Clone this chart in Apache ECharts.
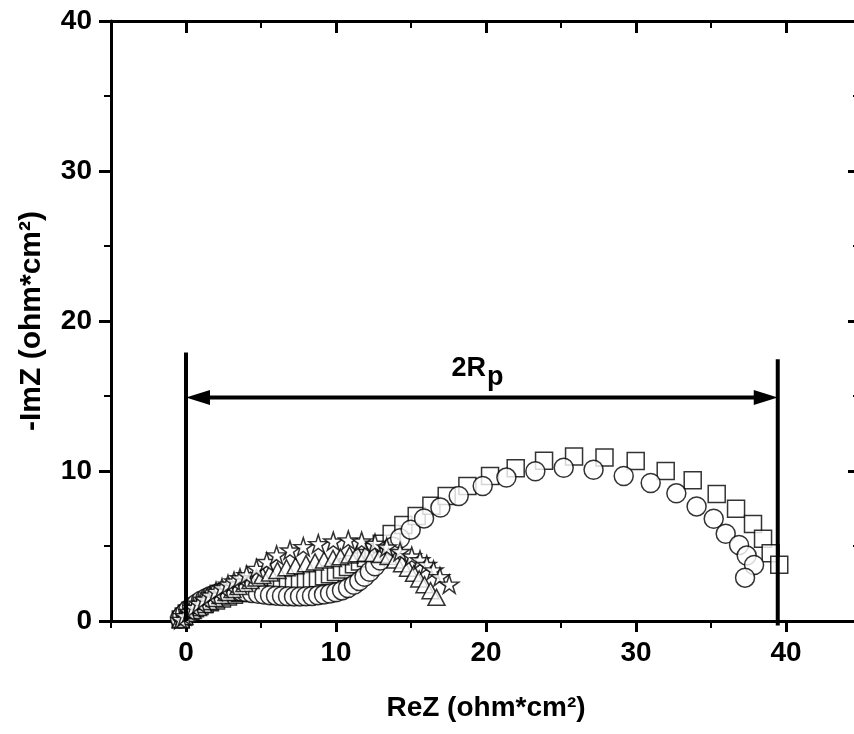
<!DOCTYPE html>
<html><head><meta charset="utf-8">
<script src="https://cdn.jsdelivr.net/npm/echarts@6/dist/echarts.min.js"></script>
<style>html,body{margin:0;padding:0;background:#fff}#c{width:854px;height:734px}</style>
</head><body><div id="c"></div><script>
// ---- data ----
const xMajorTicks = [0, 10, 20, 30, 40];
const xMinorTicks = [-5, 5, 15, 25, 35, 45];
const xLabel = 'ReZ (ohm*cm²)';
const yLabel = '-ImZ (ohm*cm²)';

const circleData = [[-0.4,0.15],[-0.25,0.35],[-0.05,0.55],[0.15,0.75],[0.4,0.95],[0.7,1.15],[1.0,1.35],[1.3,1.5],[1.6,1.65],[1.9,1.77],[2.2,1.87],[2.5,1.94],[2.8,1.98],[3.1,2.0],[3.4,2.0],[3.7,1.97],[4.0,1.93],[4.4,1.87],[4.8,1.81],[5.2,1.76],[5.6,1.72],[6.0,1.69],[6.4,1.67],[6.8,1.65],[7.2,1.64],[7.6,1.64],[8.0,1.65],[8.4,1.67],[8.8,1.71],[9.2,1.76],[9.6,1.83],[10.0,1.92],[10.4,2.04],[10.8,2.2],[11.2,2.42],[11.55,2.66],[11.9,2.95],[12.25,3.28],[12.6,3.65],[12.95,4.03],[13.35,4.45],[13.8,4.95],[14.27,5.51],[14.98,6.09],[15.87,6.84],[16.96,7.56],[18.18,8.33],[19.78,9.0],[21.36,9.56],[23.29,9.98],[25.18,10.22],[27.17,10.08],[29.18,9.67],[30.98,9.2],[32.69,8.51],[34.04,7.64],[35.18,6.82],[35.98,5.82],[36.87,5.07],[37.38,4.36],[37.87,3.73],[37.27,2.89]];

const squareData = [[-0.35,0.1],[-0.15,0.3],[0.05,0.5],[0.3,0.68],[0.6,0.85],[0.9,1.0],[1.25,1.13],[1.6,1.25],[2.0,1.37],[2.4,1.5],[2.8,1.63],[3.2,1.75],[3.6,1.86],[4.0,1.96],[4.4,2.05],[4.8,2.12],[5.2,2.18],[5.6,2.23],[6.0,2.28],[6.4,2.33],[6.8,2.38],[7.2,2.45],[7.6,2.53],[8.0,2.62],[8.4,2.73],[8.8,2.85],[9.2,2.98],[9.6,3.12],[10.0,3.27],[10.4,3.43],[10.8,3.6],[11.2,3.78],[11.6,3.97],[12.0,4.2],[12.5,4.6],[13.05,5.15],[13.71,5.8],[14.49,6.4],[15.38,7.0],[16.36,7.69],[17.38,8.33],[18.76,9.0],[20.27,9.67],[21.98,10.18],[23.87,10.69],[25.87,10.96],[27.9,10.9],[29.98,10.67],[31.98,10.0],[33.78,9.38],[35.38,8.47],[36.67,7.49],[37.8,6.47],[38.47,5.49],[38.98,4.51],[39.55,3.75]];

const triangleData = [[-0.35,0.1],[-0.1,0.3],[0.15,0.5],[0.45,0.7],[0.8,0.9],[1.15,1.1],[1.5,1.3],[1.9,1.5],[2.3,1.7],[2.7,1.9],[3.1,2.1],[3.5,2.3],[3.9,2.5],[4.3,2.7],[4.7,2.87],[5.1,3.03],[5.6,3.2],[6.1,3.37],[6.7,3.55],[7.3,3.68],[8.0,3.82],[8.6,3.94],[9.2,4.06],[9.8,4.17],[10.3,4.28],[10.9,4.4],[11.4,4.48],[12.0,4.52],[12.5,4.5],[13.0,4.43],[13.5,4.3],[13.95,4.07],[14.4,3.82],[14.8,3.52],[15.2,3.18],[15.55,2.8],[15.9,2.42],[16.3,2.02],[16.7,1.58]];

const starData = [[-0.35,0.1],[-0.1,0.35],[0.2,0.62],[0.5,0.9],[0.85,1.18],[1.2,1.45],[1.6,1.72],[2.0,1.98],[2.4,2.22],[2.8,2.45],[3.2,2.66],[3.6,2.87],[4.04,3.07],[4.7,3.5],[5.38,3.96],[6.04,4.4],[6.93,4.73],[7.82,4.95],[8.82,5.15],[9.82,5.32],[10.82,5.4],[11.71,5.32],[12.6,5.18],[13.38,4.92],[14.27,4.62],[15.05,4.32],[15.6,4.07],[16.05,3.76],[16.5,3.4],[16.93,2.95],[17.55,2.45]];

// 2Rp annotation (data units)
const rpLeftX = 0, rpRightX = 39.45, rpArrowY = 14.9;
const rpLeftTop = 17.9, rpRightTop = 17.45, rpLeftBottom = 0, rpRightBottom = -0.3;
const rpLabelX = 20.0, rpLabelY = 15.9;
const rpLabelMain = '2R', rpLabelSub = 'p';

// ---- chart ----
const FONT = '"Liberation Sans", Arial, Helvetica, sans-serif';
const STAR = 'path://M0,-100 L22.45,-30.9 L95.1,-30.9 L36.3,11.8 L58.8,80.9 L0,38.2 L-58.8,80.9 L-36.3,11.8 L-95.1,-30.9 L-22.45,-30.9 Z';
const chart = echarts.init(document.getElementById('c'), null, {renderer: 'canvas'});
const G = {left: 111, top: 21, width: 750, height: 600, outerBoundsMode: 'none', containLabel: false};
const black = '#000';
const markerStyle = {color: '#fff', borderColor: black, borderWidth: 1.5};
const tickLbl = {fontFamily: FONT, fontWeight: 'bold', fontSize: 28, color: black};
const nameLbl = {fontFamily: FONT, fontWeight: 'bold', fontSize: 28, color: black};
const yNameLbl = {fontFamily: FONT, fontWeight: 'bold', fontSize: 30, color: black};

function scatter(name, data, symbol, size) {
  return {name, type: 'scatter', xAxisIndex: 0, yAxisIndex: 0, data, symbol, symbolSize: size,
    itemStyle: markerStyle, emphasis: {disabled: true}, clip: false};
}

const option = {
  animation: false,
  backgroundColor: '#fff',
  grid: [Object.assign({}, G), Object.assign({}, G)],
  xAxis: [
    {gridIndex: 0, type: 'value', position: 'bottom', min: -5, max: 45,
      axisLine: {show: true, onZero: false, lineStyle: {color: black, width: 3}},
      axisTick: {show: true, customValues: xMajorTicks, length: 11, lineStyle: {color: black, width: 3}},
      axisLabel: Object.assign({customValues: xMajorTicks, margin: 18}, tickLbl),
      splitLine: {show: false},
      name: xLabel, nameLocation: 'middle', nameGap: 73, nameTextStyle: nameLbl},
    {gridIndex: 0, type: 'value', position: 'top', min: -5, max: 45,
      axisLine: {show: true, onZero: false, lineStyle: {color: black, width: 3}},
      axisTick: {show: true, inside: true, customValues: xMajorTicks, length: 12, lineStyle: {color: black, width: 3}},
      axisLabel: {show: false}, splitLine: {show: false}},
    {gridIndex: 1, type: 'value', position: 'bottom', min: -5, max: 45,
      axisLine: {show: false, onZero: false},
      axisTick: {show: true, customValues: xMinorTicks, length: 7, lineStyle: {color: black, width: 2}},
      axisLabel: {show: false}, splitLine: {show: false}},
    {gridIndex: 1, type: 'value', position: 'top', min: -5, max: 45,
      axisLine: {show: false, onZero: false},
      axisTick: {show: true, inside: true, customValues: xMinorTicks, length: 7, lineStyle: {color: black, width: 2}},
      axisLabel: {show: false}, splitLine: {show: false}}
  ],
  yAxis: [
    {gridIndex: 0, type: 'value', position: 'left', min: 0, max: 40, interval: 10,
      axisLine: {show: true, onZero: false, lineStyle: {color: black, width: 3}},
      axisTick: {show: true, length: 12, lineStyle: {color: black, width: 3}},
      minorTick: {show: true, splitNumber: 2, length: 7, lineStyle: {color: black, width: 2}},
      axisLabel: Object.assign({margin: 19}, tickLbl),
      splitLine: {show: false}, minorSplitLine: {show: false},
      name: yLabel, nameLocation: 'middle', nameGap: 64, nameRotate: 90, nameTextStyle: yNameLbl},
    {gridIndex: 0, type: 'value', position: 'right', min: 0, max: 40, interval: 10,
      axisLine: {show: true, onZero: false, lineStyle: {color: black, width: 3}},
      axisTick: {show: true, inside: true, length: 13, lineStyle: {color: black, width: 3}},
      minorTick: {show: true, splitNumber: 2, length: 8, lineStyle: {color: black, width: 2}},
      axisLabel: {show: false}, splitLine: {show: false}},
    {gridIndex: 1, type: 'value', min: 0, max: 40, show: false}
  ],
  series: [
    scatter('square', squareData, 'rect', 17),
    scatter('circle', circleData, 'circle', 19),
    scatter('triangle', triangleData, 'triangle', [17, 16]),
    scatter('star', starData, STAR, [19, 18]),
    {
      type: 'custom', xAxisIndex: 0, yAxisIndex: 0, clip: false, silent: true, z: 10,
      data: [[rpLeftX, rpArrowY]],
      renderItem: function (params, api) {
        const L0 = api.coord([rpLeftX, rpLeftBottom]);
        const L1 = api.coord([rpLeftX, rpLeftTop]);
        const R0 = api.coord([rpRightX, rpRightBottom]);
        const R1 = api.coord([rpRightX, rpRightTop]);
        const A0 = api.coord([rpLeftX, rpArrowY]);
        const A1 = api.coord([rpRightX, rpArrowY]);
        const T = api.coord([rpLabelX, rpLabelY]);
        const ls = {stroke: black, lineWidth: 4};
        const hl = 24, hw = 7.5;
        return {type: 'group', children: [
          {type: 'line', shape: {x1: L0[0], y1: L0[1], x2: L1[0], y2: L1[1]}, style: ls},
          {type: 'line', shape: {x1: R0[0], y1: R0[1], x2: R1[0], y2: R1[1]}, style: ls},
          {type: 'line', shape: {x1: A0[0] + hl - 2, y1: A0[1], x2: A1[0] - hl + 2, y2: A1[1]}, style: ls},
          {type: 'polygon', shape: {points: [[A0[0], A0[1]], [A0[0] + hl, A0[1] - hw], [A0[0] + hl, A0[1] + hw]]}, style: {fill: black}},
          {type: 'polygon', shape: {points: [[A1[0], A1[1]], [A1[0] - hl, A1[1] - hw], [A1[0] - hl, A1[1] + hw]]}, style: {fill: black}},
          {type: 'text', x: T[0], y: T[1], style: {text: rpLabelMain, fill: black, font: 'bold 27px ' + FONT, align: 'right', verticalAlign: 'bottom'}},
          {type: 'text', x: T[0] + 1, y: T[1] + 9, style: {text: rpLabelSub, fill: black, font: 'bold 27px ' + FONT, align: 'left', verticalAlign: 'bottom'}}
        ]};
      }
    }
  ]
};
chart.setOption(option);
</script></body></html>
